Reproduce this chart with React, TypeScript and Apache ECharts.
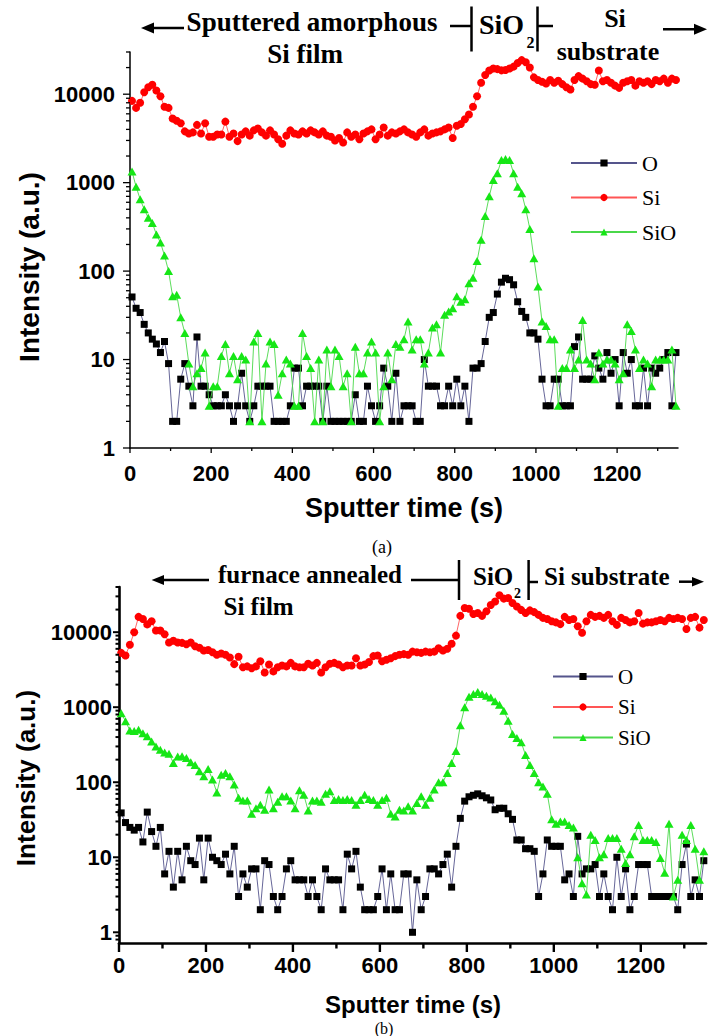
import React, { useEffect, useRef } from 'react';
import * as echarts from 'echarts';

// ---------- data ----------
const sputterTimes = [
  5, 15, 25, 35, 45, 55, 65, 75, 85, 95,
  105, 115, 125, 135, 145, 155, 165, 175, 185, 195,
  205, 215, 225, 235, 245, 255, 265, 275, 285, 295,
  305, 315, 325, 335, 345, 355, 365, 375, 385, 395,
  405, 415, 425, 435, 445, 455, 465, 475, 485, 495,
  505, 515, 525, 535, 545, 555, 565, 575, 585, 595,
  605, 615, 625, 635, 645, 655, 665, 675, 685, 695,
  705, 715, 725, 735, 745, 755, 765, 775, 785, 795,
  805, 815, 825, 835, 845, 855, 865, 875, 885, 895,
  905, 915, 925, 935, 945, 955, 965, 975, 985, 995,
  1005, 1015, 1025, 1035, 1045, 1055, 1065, 1075, 1085, 1095,
  1105, 1115, 1125, 1135, 1145, 1155, 1165, 1175, 1185, 1195,
  1205, 1215, 1225, 1235, 1245, 1255, 1265, 1275, 1285, 1295,
  1305, 1315, 1325, 1335, 1345,
];

// panel (a): sputtered amorphous Si film
const oA = [
  51, 38, 34, 25, 20, 17, 15, 12, 16, 9,
  2, 2, 6, 9, 5, 3, 18, 5, 5, 4,
  3, 3, 3, 4, 3, 2, 3, 7, 3, 2,
  3, 5, 5, 5, 5, 2, 2, 2, 2, 3,
  8, 8, 3, 5, 5, 5, 5, 2, 5, 2,
  2, 2, 2, 2, 2, 4, 2, 2, 5, 3,
  2, 3, 8, 5, 2, 7, 2, 3, 3, 3,
  2, 2, 10, 5, 5, 5, 3, 3, 5, 3,
  6, 3, 5, 2, 8, 8, 9, 16, 30, 34,
  55, 75, 83, 80, 70, 45, 35, 30, 20, 20,
  17, 6, 3, 3, 6, 6, 3, 3, 3, 14,
  18, 6, 6, 6, 11, 8, 6, 12, 7, 10,
  3, 12, 7, 10, 3, 3, 8, 3, 8, 7,
  8, 10, 12, 3, 12,
];
const siA = [
  8400, 7000, 8000, 10500, 12000, 12800, 11000, 9500, 7200, 7000,
  5300, 5000, 4700, 3800, 3600, 3700, 4500, 3600, 4700, 3300,
  3300, 3500, 3500, 4900, 3300, 3600, 2950, 3500, 3800, 3400,
  3900, 4100, 3700, 3400, 3900, 3500, 3100, 2750, 3400, 3900,
  3600, 3500, 3800, 3600, 3900, 3700, 3500, 3800, 3400, 3300,
  3000, 3200, 2850, 3700, 3300, 3500, 3100, 3600, 3800, 4000,
  3100, 3500, 4200, 3400, 3700, 3600, 3800, 4000, 3700, 3500,
  3300, 3700, 4000, 3400, 3600, 3700, 3800, 4000, 4200, 3200,
  4400, 4600, 5200, 5900, 7200, 9500, 13500, 16500, 18500, 19500,
  19200, 18600, 18800, 19500, 20500, 22500, 24300, 23000, 20000, 15500,
  14500, 13800, 13200, 14500, 13500, 14200, 13000, 12000, 11300, 14500,
  16000, 15000, 14000, 13000, 12800, 18500, 14000, 14500, 13500, 12500,
  11800, 13500, 14000, 14500, 12500, 14000, 13500, 14000, 13000, 14500,
  14000, 15000, 13500, 15000, 14500,
];
const sioA = [
  1340, 900, 650, 500, 400, 350, 260, 210, 150, 100,
  52, 54, 30, 20, 9, 5, 7, 8, 12, 3,
  5, 5, 11, 15, 7, 11, 6, 11, 10, 2,
  16, 20, 2, 9, 16, 15, 4, 7, 10, 9,
  3, 3, 20, 11, 8, 2, 10, 2, 13, 5,
  13, 11, 5, 7, 2, 14, 7, 7, 12, 16,
  12, 2, 5, 12, 6, 15, 14, 17, 27, 13,
  17, 17, 9, 12, 23, 25, 12, 32, 35, 38,
  52, 45, 48, 73, 84, 130, 226, 420, 700, 1070,
  1280, 1800, 1850, 1800, 1280, 900, 760, 500, 300, 140,
  67, 27, 24, 17, 17, 3, 8, 8, 13, 8,
  10, 28, 10, 9, 6, 12, 9, 10, 10, 9,
  6, 7, 25, 21, 13, 8, 10, 9, 5, 10,
  10, 10, 10, 13, 3,
];

// panel (b): furnace annealed Si film
const oB = [
  39, 29, 25, 23, 25, 16, 40, 22, 14, 25,
  6, 12, 4, 12, 5, 14, 9, 8, 18, 5,
  18, 10, 9, 8, 11, 6, 14, 3, 6, 4,
  7, 7, 2, 9, 8, 3, 2, 3, 7, 9,
  5, 5, 5, 3, 5, 3, 2, 7, 5, 5,
  5, 2, 11, 7, 12, 4, 2, 2, 2, 3,
  7, 2, 6, 2, 2, 6, 6, 1, 5, 2,
  3, 7, 7, 6, 8, 11, 4, 14, 33, 56,
  64, 67, 70, 66, 62, 58, 43, 45, 45, 38,
  32, 17, 17, 13, 13, 12, 3, 6, 17, 14,
  14, 14, 5, 6, 3, 19, 6, 7, 7, 8,
  3, 6, 3, 2, 10, 3, 7, 2, 3, 8,
  8, 8, 3, 3, 3, 3, 3, 3, 2, 8,
  15, 3, 5, 3, 9,
];
const siB = [
  5300, 4900, 6800, 10000, 16000, 15000, 12700, 14000, 10500, 10500,
  9400, 7300, 7700, 7300, 7200, 6900, 7300, 6500, 6200, 5700,
  5800, 5400, 5000, 5200, 5000, 4600, 3750, 4700, 3400, 3500,
  3300, 3500, 4100, 2900, 3700, 3000, 3400, 3600, 3500, 3900,
  3500, 3400, 3400, 3800, 3600, 3900, 2900, 3400, 3800, 3900,
  3700, 3400, 3600, 3600, 4500, 3600, 3700, 4000, 4800, 4900,
  4100, 4300, 4500, 4800, 5000, 5100, 5000, 5500, 5400, 5300,
  5500, 5400, 5500, 6100, 5700, 6000, 7000, 9000, 16500, 21000,
  20500, 17500, 18000, 16500, 19000, 23000, 25600, 31000, 28000, 28500,
  24500, 22000, 19800, 18000, 19500, 18500, 17000, 15500, 15000, 14000,
  13500, 12800, 16000, 14500, 15000, 12000, 9800, 14000, 17000, 16000,
  16500, 15500, 17000, 14000, 12500, 15500, 14500, 13500, 14000, 18000,
  13000, 13500, 13500, 14000, 14500, 14000, 15500, 15000, 15500, 15000,
  11000, 15500, 16000, 11500, 14500,
];
const sioB = [
  830, 650, 490, 480, 500, 450, 410, 350, 300, 270,
  250, 240, 181, 220, 222, 210, 185, 170, 140, 120,
  150, 109, 73, 126, 133, 120, 93, 62, 57, 57,
  38, 45, 50, 43, 80, 45, 55, 65, 65, 57,
  45, 78, 68, 42, 57, 57, 55, 70, 76, 58,
  60, 58, 60, 58, 50, 58, 68, 60, 58, 50,
  58, 62, 38, 35, 43, 42, 48, 42, 53, 65,
  50, 62, 80, 100, 100, 133, 180, 260, 575, 1000,
  1380, 1500, 1600, 1500, 1420, 1350, 1200, 1080, 900, 660,
  440, 390, 340, 230, 170, 133, 100, 88, 70, 32,
  28, 30, 30, 27, 25, 10, 4.5, 3.2, 20, 17,
  10, 11, 18, 18, 18, 13, 8.4, 11, 19, 27,
  17, 17, 17, 16, 9.8, 6.2, 28, 3, 5, 20,
  17, 27, 13, 5, 12,
];

// ticks / labels
const legendNames = ['O', 'Si', 'SiO'];
const xTickValues = [0, 100, 200, 300, 400, 500, 600, 700, 800, 900, 1000, 1100, 1200, 1300];
const xLabelValues = [0, 200, 400, 600, 800, 1000, 1200];
const yMajorTicks = [1, 10, 100, 1000, 10000];
const yMinorTicksA = [
  2, 3, 4, 5, 6, 7, 8, 9,
  20, 30, 40, 50, 60, 70, 80, 90,
  200, 300, 400, 500, 600, 700, 800, 900,
  2000, 3000, 4000, 5000, 6000, 7000, 8000, 9000,
  20000, 30000,
];
const yMinorTicksB = [
  0.8, 0.9,
  2, 3, 4, 5, 6, 7, 8, 9,
  20, 30, 40, 50, 60, 70, 80, 90,
  200, 300, 400, 500, 600, 700, 800, 900,
  2000, 3000, 4000, 5000, 6000, 7000, 8000, 9000,
  20000, 30000, 40000,
];

// ---------- helpers ----------
const fontSans = '"Liberation Sans", Arial, Helvetica, sans-serif';
const fontSerif = '"Liberation Serif", "Times New Roman", Times, serif';

const pairs = (ts: number[], vs: number[]) => ts.map((t, i) => [t, vs[i]]);
const isPow10 = (v: number) => {
  const l = Math.log10(v);
  return Math.abs(l - Math.round(l)) < 1e-6;
};

const COLORS = {
  O: { item: '#000000', line: '#55558c' },
  Si: { item: '#ff0000', line: '#ff5555' },
  SiO: { item: '#16e616', line: '#4ad84a' },
};

function dataSeries(gi: number, bundle: { o: number[]; si: number[]; sio: number[] }) {
  const common = {
    type: 'line',
    xAxisIndex: gi,
    yAxisIndex: gi,
    showSymbol: true,
    silent: true,
    emphasis: { disabled: true },
  };
  return [
    {
      ...common,
      name: 'O',
      data: pairs(sputterTimes, bundle.o),
      symbol: 'rect',
      symbolSize: 7,
      itemStyle: { color: COLORS.O.item },
      lineStyle: { color: COLORS.O.line, width: 0.9 },
      z: 2,
    },
    {
      ...common,
      name: 'Si',
      data: pairs(sputterTimes, bundle.si),
      symbol: 'circle',
      symbolSize: 8,
      itemStyle: { color: COLORS.Si.item },
      lineStyle: { color: COLORS.Si.line, width: 0.9 },
      z: 3,
    },
    {
      ...common,
      name: 'SiO',
      data: pairs(sputterTimes, bundle.sio),
      symbol: 'triangle',
      symbolSize: [9, 8],
      itemStyle: { color: COLORS.SiO.item },
      lineStyle: { color: COLORS.SiO.line, width: 0.9 },
      z: 4,
    },
  ];
}

function yTickSeries(gi: number, minor: number[], majorLen: number, minorLen: number, w: number) {
  const data = [...yMajorTicks.map((v) => [0, v, 1]), ...minor.map((v) => [0, v, 0])];
  return {
    type: 'custom',
    name: 'yticks' + gi,
    xAxisIndex: gi,
    yAxisIndex: gi,
    silent: true,
    clip: false,
    z: 6,
    data,
    renderItem: (params: any, api: any) => {
      const cs = params.coordSys;
      const len = api.value(2) === 1 ? majorLen : minorLen;
      const y = api.coord([0, api.value(1)])[1];
      return {
        type: 'line',
        shape: { x1: cs.x - len, y1: y, x2: cs.x, y2: y },
        style: { stroke: '#000', lineWidth: w },
      };
    },
  };
}

function xTickSeries(gi: number, majorLen: number, minorLen: number, w: number) {
  const data = xTickValues.map((t) => [t, 1, xLabelValues.includes(t) ? 1 : 0]);
  return {
    type: 'custom',
    name: 'xticks' + gi,
    xAxisIndex: gi,
    yAxisIndex: gi,
    silent: true,
    clip: false,
    z: 6,
    data,
    renderItem: (params: any, api: any) => {
      const cs = params.coordSys;
      const len = api.value(2) === 1 ? majorLen : minorLen;
      const x = api.coord([api.value(0), 1])[0];
      const yb = cs.y + cs.height;
      return {
        type: 'line',
        shape: { x1: x, y1: yb, x2: x, y2: yb + len },
        style: { stroke: '#000', lineWidth: w },
      };
    },
  };
}

function xAxisCfg(gi: number, lw: number, margin: number) {
  return {
    type: 'value',
    gridIndex: gi,
    min: 0,
    max: 1350,
    interval: 100,
    axisLine: { show: true, onZero: false, lineStyle: { color: '#000', width: lw } },
    axisTick: { show: false },
    splitLine: { show: false },
    axisLabel: {
      formatter: (v: number) => (xLabelValues.includes(v) ? String(v) : ''),
      color: '#000',
      fontWeight: 'bold',
      fontSize: 22,
      fontFamily: fontSans,
      margin,
    },
  };
}

function yAxisCfg(gi: number, min: number, max: number, lw: number, margin: number) {
  return {
    type: 'log',
    logBase: 10,
    gridIndex: gi,
    min,
    max,
    axisLine: { show: true, onZero: false, lineStyle: { color: '#000', width: lw } },
    axisTick: { show: false },
    minorTick: { show: false },
    splitLine: { show: false },
    axisLabel: {
      formatter: (v: number) => (isPow10(v) ? String(Math.round(v)) : ''),
      color: '#000',
      fontWeight: 'bold',
      fontSize: 22,
      fontFamily: fontSans,
      margin,
    },
  };
}

const txt = (
  x: number,
  y: number,
  text: string,
  size: number,
  opts: { bold?: boolean; family?: string; align?: string; rotation?: number } = {}
) => ({
  type: 'text',
  x,
  y,
  rotation: opts.rotation || 0,
  silent: true,
  style: {
    text,
    fill: '#000',
    fontSize: size,
    fontWeight: opts.bold === false ? 'normal' : 'bold',
    fontFamily: opts.family || fontSerif,
    align: opts.align || 'center',
    verticalAlign: 'middle',
  },
});
const seg = (x1: number, y1: number, x2: number, y2: number, w = 2.5) => ({
  type: 'line',
  silent: true,
  shape: { x1, y1, x2, y2 },
  style: { stroke: '#000', lineWidth: w },
});
const head = (pts: number[][]) => ({
  type: 'polygon',
  silent: true,
  shape: { points: pts },
  style: { fill: '#000' },
});

export default function App() {
  const ref = useRef<HTMLDivElement>(null);

  useEffect(() => {
    document.body.style.margin = '0';
    if (!ref.current) return;
    const chart = echarts.init(ref.current, undefined, { renderer: 'svg' });

    const graphic = [
      // panel (a) annotations
      seg(151, 28, 184, 28),
      head([[141, 28], [154, 22.5], [154, 33.5]]),
      txt(312, 22, 'Sputtered amorphous', 27),
      txt(305, 54, 'Si film', 27),
      seg(450, 26, 471, 26),
      seg(471.5, 6.5, 471.5, 51.5),
      txt(479, 24.5, 'SiO', 28, { align: 'left' }),
      txt(526.5, 42, '2', 16, { align: 'left' }),
      seg(537.5, 6.5, 537.5, 51.5),
      seg(537, 26, 553, 26),
      txt(615, 18, 'Si', 26),
      txt(608, 51, 'substrate', 26),
      seg(663, 29.3, 696, 29.3),
      head([[707, 29.3], [694, 23.8], [694, 34.8]]),
      txt(382, 547, '(a)', 18, { bold: false }),
      txt(29.5, 267, 'Intensity (a.u.)', 28, { family: fontSans, rotation: Math.PI / 2 }),
      txt(404, 508, 'Sputter time (s)', 27, { family: fontSans }),

      // panel (b) annotations
      seg(162, 580, 209, 580),
      head([[151.6, 580], [164, 575], [164, 585]]),
      txt(310, 574.5, 'furnace annealed', 25),
      txt(258.6, 606.5, 'Si film', 25),
      seg(411, 580, 459, 580),
      seg(459, 560, 459, 600),
      txt(473, 576.5, 'SiO', 25, { align: 'left' }),
      txt(514, 593, '2', 14, { align: 'left' }),
      seg(528.6, 560, 528.6, 600),
      seg(528, 582, 538, 582),
      txt(544, 576.5, 'Si substrate', 25, { align: 'left' }),
      seg(679, 581.7, 694, 581.7),
      head([[704, 581.7], [692, 577], [692, 586.5]]),
      txt(384, 1028.5, '(b)', 16, { bold: false }),
      txt(26, 778, 'Intensity (a.u.)', 26, { family: fontSans, rotation: Math.PI / 2 }),
      txt(413, 1004, 'Sputter time (s)', 24, { family: fontSans }),
    ];

    const legendCommon = {
      data: legendNames,
      orient: 'vertical',
      padding: 0,
      selectedMode: false,
      itemHeight: 9,
    };

    chart.setOption({
      animation: false,
      backgroundColor: '#ffffff',
      grid: [
        { left: 130, top: 52, width: 548, height: 396 },
        { left: 119, top: 587, width: 587, height: 356 },
      ],
      xAxis: [xAxisCfg(0, 1.5, 14), xAxisCfg(1, 2.6, 11)],
      yAxis: [yAxisCfg(0, 1, 30000, 1.5, 15), yAxisCfg(1, 0.72, 40000, 2.6, 7)],
      legend: [
        {
          ...legendCommon,
          left: 570,
          top: 152,
          itemWidth: 66,
          itemGap: 12.5,
          textStyle: { fontFamily: fontSerif, fontSize: 22, color: '#000' },
        },
        {
          ...legendCommon,
          left: 552,
          top: 666,
          itemWidth: 60,
          itemGap: 9.5,
          textStyle: { fontFamily: fontSerif, fontSize: 21, color: '#000' },
        },
      ],
      series: [
        ...dataSeries(0, { o: oA, si: siA, sio: sioA }),
        ...dataSeries(1, { o: oB, si: siB, sio: sioB }),
        yTickSeries(0, yMinorTicksA, 7, 4, 1.3),
        yTickSeries(1, yMinorTicksB, 6, 3.5, 2),
        xTickSeries(0, 5, 3, 1.3),
        xTickSeries(1, 9, 5.5, 2.4),
      ],
      graphic,
    });

    return () => chart.dispose();
  }, []);

  return <div ref={ref} style={{ width: 718, height: 1036 }} />;
}
